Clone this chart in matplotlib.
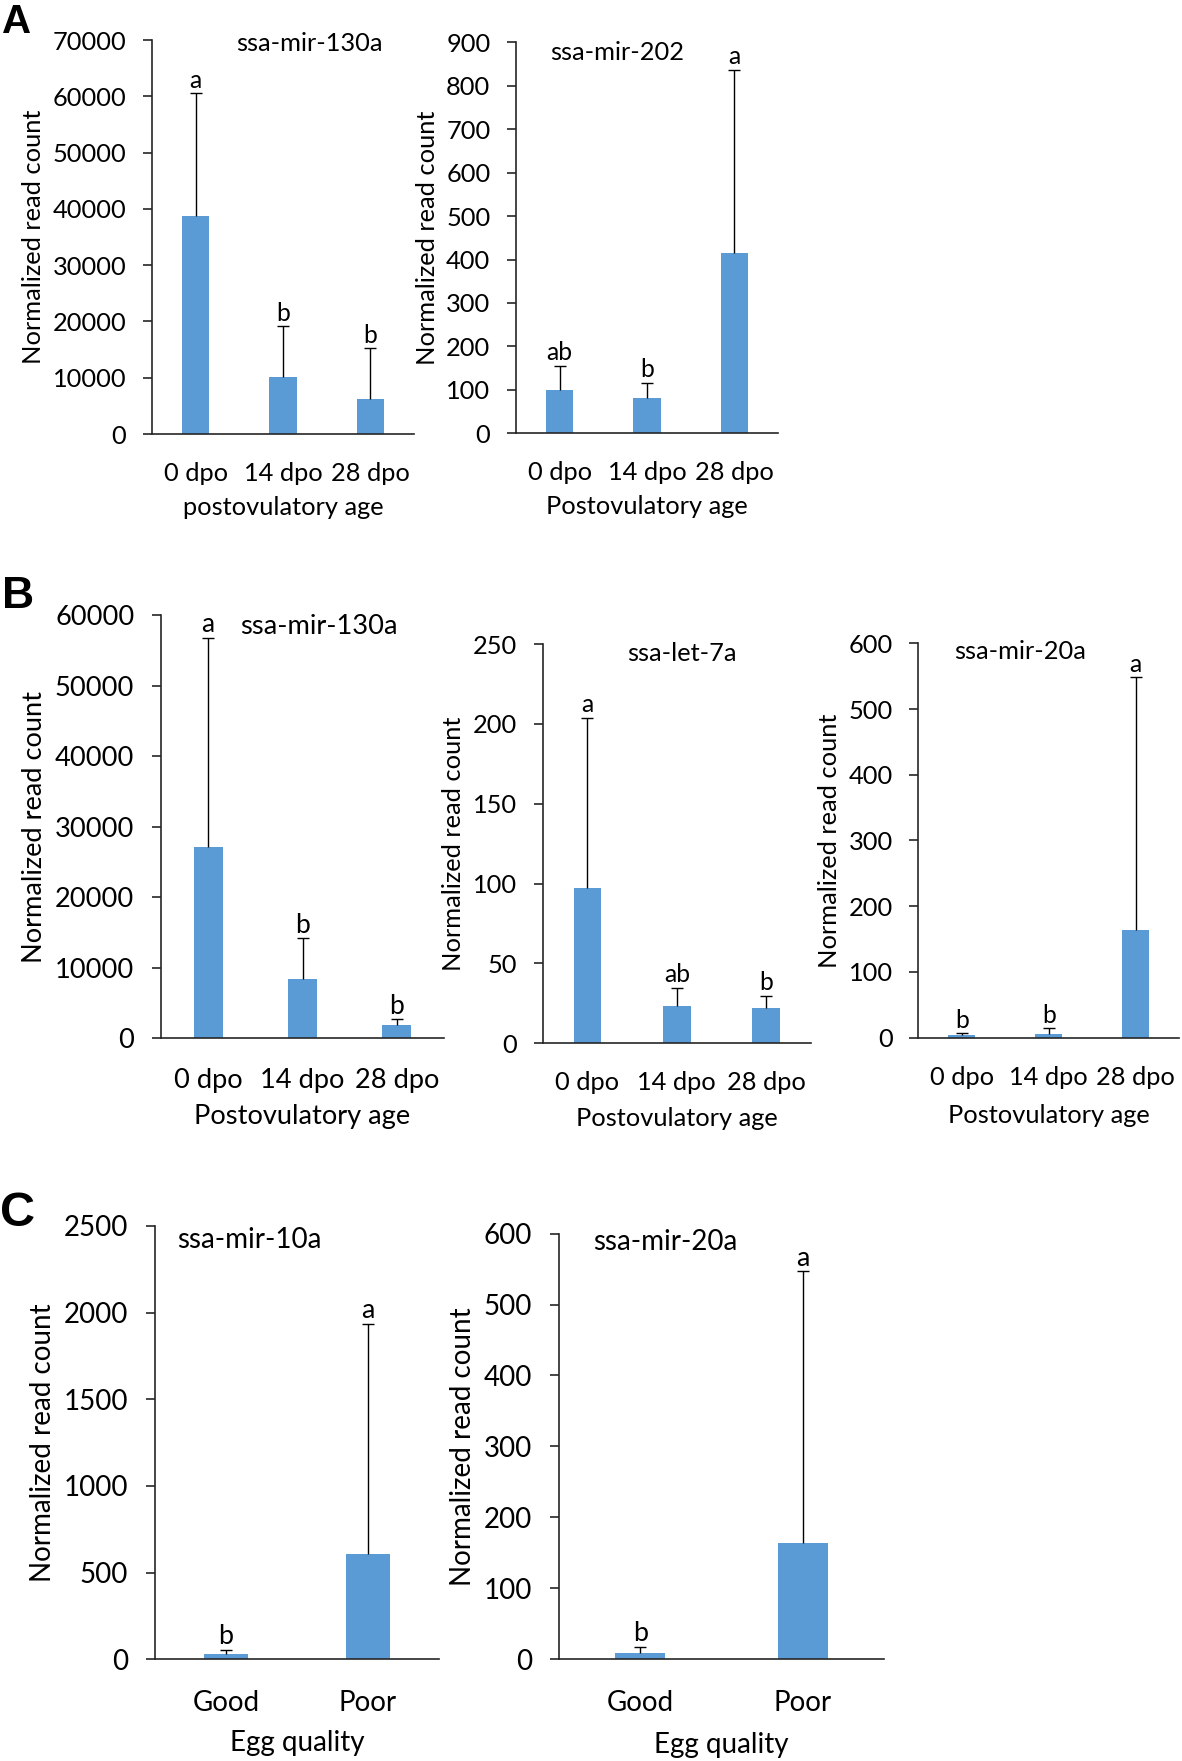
import matplotlib
matplotlib.use('Agg')
import matplotlib.pyplot as plt
import numpy as np

plt.rcParams['font.family'] = ['Lato', 'DejaVu Sans']

# ---- data ----
dpo = ['0 dpo', '14 dpo', '28 dpo']
egg = ['Good', 'Poor']

a1_mean = [38800, 10200, 6200]
a1_err = [21700, 8900, 9000]
a1_sig = ['a', 'b', 'b']

a2_mean = [100, 81, 416]
a2_err = [55, 35, 421]
a2_sig = ['ab', 'b', 'a']

b1_mean = [27150, 8400, 1890]
b1_err = [29630, 5770, 800]
b1_sig = ['a', 'b', 'b']

b2_mean = [97.4, 23.5, 22.3]
b2_err = [106.5, 11.3, 7.5]
b2_sig = ['a', 'ab', 'b']

b3_mean = [4, 6, 164]
b3_err = [2.7, 8.3, 384]
b3_sig = ['b', 'b', 'a']

c1_mean = [31, 606]
c1_err = [23, 1329]
c1_sig = ['b', 'a']

c2_mean = [8, 164]
c2_err = [9.4, 383]
c2_sig = ['b', 'a']

W, H = 1182, 1761
fig = plt.figure(figsize=(W / 100, H / 100), dpi=100)
blue = '#5B9BD5'
axcol = '#262626'


def make_axes(x0, yt, x1, yb):
    return fig.add_axes([x0 / W, 1 - yb / H, (x1 - x0) / W, (yb - yt) / H])


def panel(ax, cats, means, errs, sig, title, tpos, ymax, ystep, xlabel, fs, lpad):
    x = np.arange(len(cats))
    ax.bar(x, means, width=0.31, color=blue, zorder=2)
    eb = ax.errorbar(x, means, yerr=[np.zeros(len(x)), errs], fmt='none',
                     ecolor='black', elinewidth=1.0, capsize=4.5, capthick=1.0, zorder=3)
    eb[1][0].set_visible(False)  # plus-only error bars
    for xi, m, e, s in zip(x, means, errs, sig):
        ax.annotate(s, (xi, m + e), xytext=(0, 4), textcoords='offset points',
                    ha='center', va='baseline', fontsize=fs * 0.97)
    ax.set_xlim(-0.5, len(cats) - 0.5)
    ax.set_ylim(0, ymax)
    ax.set_yticks(np.arange(0, ymax + 1, ystep))
    ax.set_xticks(x)
    ax.set_xticklabels(cats)
    for s in ['top', 'right']:
        ax.spines[s].set_visible(False)
    for s in ['left', 'bottom']:
        ax.spines[s].set_linewidth(1.2)
        ax.spines[s].set_color(axcol)
    ax.tick_params(axis='x', length=0, pad=fs * 1.1, labelsize=fs)
    ax.tick_params(axis='y', length=6.5, width=1.2, color=axcol, pad=fs * 0.65, labelsize=fs)
    ax.set_ylabel('Normalized read count', fontsize=fs, labelpad=5.5)
    ax.set_xlabel(xlabel, fontsize=fs, labelpad=lpad)
    ax.text(tpos[0], tpos[1], title, transform=ax.transAxes, ha='center', va='center', fontsize=fs)


ax = make_axes(152, 40, 414, 434)
panel(ax, dpo, a1_mean, a1_err, a1_sig, 'ssa-mir-130a', (0.60, 0.99), 70000, 10000,
      'postovulatory age', 18.3, 8)
ax = make_axes(516, 42.3, 778, 433.3)
panel(ax, dpo, a2_mean, a2_err, a2_sig, 'ssa-mir-202', (0.384, 0.975), 900, 100,
      'Postovulatory age', 18.3, 8)

ax = make_axes(161, 615, 444, 1038.3)
panel(ax, dpo, b1_mean, b1_err, b1_sig, 'ssa-mir-130a', (0.558, 0.972), 60000, 10000,
      'Postovulatory age', 19.6, 8)
ax = make_axes(542.7, 644, 811, 1043.3)
panel(ax, dpo, b2_mean, b2_err, b2_sig, 'ssa-let-7a', (0.517, 0.977), 250, 50,
      'Postovulatory age', 18.3, 9)
ax = make_axes(918.3, 643.3, 1179, 1037.7)
panel(ax, dpo, b3_mean, b3_err, b3_sig, 'ssa-mir-20a', (0.39, 0.979), 600, 100,
      'Postovulatory age', 18.3, 11)

ax = make_axes(155, 1226, 439, 1659.3)
panel(ax, egg, c1_mean, c1_err, c1_sig, 'ssa-mir-10a', (0.333, 0.968), 2500, 500,
      'Egg quality', 20, 10)
ax = make_axes(559, 1233.7, 884, 1659)
panel(ax, egg, c2_mean, c2_err, c2_sig, 'ssa-mir-20a', (0.327, 0.981), 600, 100,
      'Egg quality', 20, 12)

for lab, (px, py), size in zip(['A', 'B', 'C'], [(17, 22), (18, 596), (18, 1214)], [29, 32, 35]):
    fig.text(px / W, 1 - py / H, lab, fontsize=size, fontweight='bold',
             family='Liberation Sans', ha='center', va='center')

fig.savefig('out.png', dpi=100)
